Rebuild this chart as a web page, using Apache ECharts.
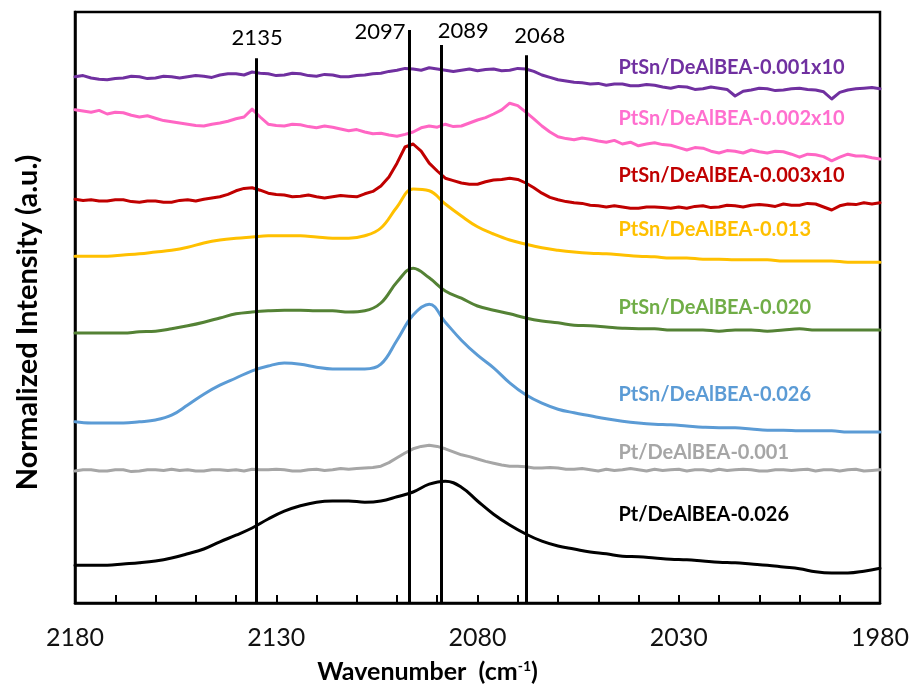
<!DOCTYPE html>
<html>
<head>
<meta charset="utf-8">
<script src="https://cdn.jsdelivr.net/npm/echarts@6/dist/echarts.min.js"></script>
<style>
  html, body { margin: 0; padding: 0; background: #ffffff; }
  #chart { width: 912px; height: 686px; }
</style>
</head>
<body>
<div id="chart"></div>
<script>
// Wavenumber grids (cm-1): 4 cm-1 step for the smooth spectra, 2 cm-1 step for the noisy ones
const wavenumbers = [2180,2176,2172,2168,2164,2160,2156,2152,2148,2144,2140,2136,2132,2128,2124,2120,2116,2112,2108,2104,2100,2096,2092,2088,2084,2080,2076,2072,2068,2064,2060,2056,2052,2048,2044,2040,2036,2032,2028,2024,2020,2016,2012,2008,2004,2000,1996,1992,1988,1984,1980];
const wavenumbersFine = [2180,2178,2176,2174,2172,2170,2168,2166,2164,2162,2160,2158,2156,2154,2152,2150,2148,2146,2144,2142,2140,2138,2136,2134,2132,2130,2128,2126,2124,2122,2120,2118,2116,2114,2112,2110,2108,2106,2104,2102,2100,2098,2096,2094,2092,2090,2088,2086,2084,2082,2080,2078,2076,2074,2072,2070,2068,2066,2064,2062,2060,2058,2056,2054,2052,2050,2048,2046,2044,2042,2040,2038,2036,2034,2032,2030,2028,2026,2024,2022,2020,2018,2016,2014,2012,2010,2008,2006,2004,2002,2000,1998,1996,1994,1992,1990,1988,1986,1984,1982,1980];

// Normalized, vertically stacked CO-IR spectra (a.u.)
const ptsn001x10 = [87.7,87.9,87.5,87.3,87.2,87.4,87.5,87.8,87.7,87.4,87.5,87.8,87.7,87.5,87.7,87.9,87.8,87.6,88.0,88.2,88.2,88.0,88.5,88.3,88.2,87.9,88.0,88.3,88.2,87.9,87.8,88.1,88.0,87.7,87.7,87.9,88.0,88.2,88.3,88.6,88.8,89.1,89.0,88.8,89.2,89.0,88.8,88.6,88.8,89.0,88.7,88.9,89.0,88.7,88.8,89.1,89.0,88.6,88.0,87.6,87.2,87.0,86.8,86.7,86.5,86.6,86.3,86.5,86.5,86.2,86.2,86.4,86.3,86.0,85.8,86.1,86.0,85.6,85.7,86.0,85.8,85.6,84.5,85.3,85.5,85.8,85.7,85.4,85.5,85.7,85.8,85.6,85.5,85.2,84.0,85.1,85.5,85.7,85.8,85.9,85.7];
const ptsn002x10 = [82.2,82.0,81.8,82.1,81.5,81.8,81.7,81.3,81.0,81.2,80.8,80.4,80.2,80.0,79.8,79.6,79.5,79.8,80.0,80.3,80.7,81.0,82.3,81.0,79.8,79.6,79.5,79.8,79.7,79.4,79.2,79.5,79.3,79.0,78.7,78.9,78.5,78.2,78.3,78.0,77.8,78.1,78.5,79.2,79.5,79.3,79.8,79.4,79.5,80.0,80.5,80.9,81.5,82.2,83.3,82.9,81.8,80.7,79.5,78.5,77.7,77.4,77.2,77.5,77.3,77.0,76.8,77.1,76.5,76.8,76.2,76.5,76.7,76.4,76.3,75.9,75.5,75.9,75.8,75.3,75.0,75.4,75.3,75.0,75.5,75.2,75.0,75.3,75.2,74.8,74.3,74.8,74.7,74.4,73.7,74.3,74.8,74.5,74.5,74.2,74.0];
const ptsn003x10 = [67.3,67.1,67.2,67.0,67.0,67.2,67.2,66.9,66.8,67.0,67.0,66.8,66.8,67.1,67.2,67.0,67.3,67.5,67.7,68.1,68.7,69.1,69.2,68.8,68.3,68.1,68.0,67.7,67.8,68.0,67.7,67.5,67.7,67.9,67.8,67.7,68.2,68.6,69.5,71.0,73.3,76.0,76.5,75.3,73.3,72.0,70.8,70.4,70.0,69.8,69.8,70.2,70.5,70.6,70.8,70.6,70.0,69.2,68.3,67.6,67.2,66.9,66.7,66.6,66.3,66.2,66.0,66.2,66.0,65.8,65.8,66.0,66.0,65.9,65.8,66.0,65.8,66.1,66.2,65.9,66.0,66.3,66.2,66.0,66.3,66.4,66.3,66.1,66.5,66.3,66.3,66.6,66.5,66.0,65.5,66.2,66.5,66.4,66.7,66.5,66.7];
const ptsn013 = [57.8,57.8,57.8,58.0,58.2,58.5,58.8,59.3,60.0,60.5,60.8,61.0,61.2,61.2,61.2,61.0,60.8,60.8,61.2,62.5,66.0,69.0,68.7,66.5,64.5,62.7,61.5,60.5,59.8,59.2,58.8,58.5,58.3,58.2,58.0,57.8,57.7,57.5,57.5,57.3,57.3,57.2,57.2,57.2,57.0,57.0,57.0,57.0,56.8,56.8,56.8];
const ptsn020 = [45.0,45.0,45.0,45.0,45.2,45.3,45.7,46.2,46.8,47.5,48.2,48.5,48.7,48.8,48.8,48.7,48.7,48.5,48.7,50.0,53.5,55.8,54.2,52.0,50.8,49.5,48.8,48.2,47.5,47.0,46.7,46.3,46.2,46.0,45.8,45.7,45.7,45.5,45.5,45.5,45.3,45.5,45.5,45.3,45.5,45.7,45.5,45.5,45.5,45.5,45.5];
const ptsn026 = [30.2,30.0,30.0,30.0,30.2,30.5,31.3,33.0,34.8,36.3,37.5,38.7,39.5,40.0,39.8,39.3,39.0,39.0,39.0,39.8,43.8,48.0,49.8,46.8,43.8,41.3,39.2,36.7,34.7,33.3,32.3,31.7,31.2,30.7,30.3,30.0,29.8,29.7,29.5,29.3,29.2,29.2,29.0,28.8,28.8,28.7,28.7,28.7,28.5,28.5,28.5];
const pt001 = [22.0,22.2,22.2,22.0,22.0,22.2,22.2,21.9,22.0,22.2,22.2,22.1,22.3,22.1,22.2,22.0,22.0,22.2,22.2,22.1,22.2,22.0,22.3,22.2,22.2,22.3,22.2,22.0,22.0,22.2,22.3,22.1,22.2,22.4,22.3,22.4,22.5,22.6,22.8,23.4,24.2,25.0,25.7,26.1,26.3,26.1,25.7,25.2,24.7,24.4,24.0,23.6,23.3,23.0,22.8,22.8,22.7,22.5,22.5,22.6,22.5,22.3,22.3,22.4,22.2,22.0,22.3,22.1,22.2,22.4,22.2,22.0,22.3,22.1,22.2,22.3,22.0,22.2,22.2,22.0,22.3,22.1,22.2,22.3,22.2,22.0,22.0,22.2,22.2,22.1,22.2,22.3,22.0,22.2,22.2,22.0,22.2,22.3,22.0,22.1,22.2];
const pt026 = [6.3,6.3,6.3,6.5,6.7,7.0,7.5,8.2,9.0,10.2,11.3,12.5,14.0,15.3,16.2,16.8,17.0,17.0,16.8,17.0,17.7,18.5,19.8,20.3,19.3,17.0,14.8,13.0,11.5,10.3,9.5,9.0,8.5,8.2,7.8,7.7,7.5,7.3,7.2,7.0,6.8,6.7,6.5,6.3,6.0,5.7,5.2,5.0,5.0,5.3,5.8];

const sampleNames = ['PtSn/DeAlBEA-0.001x10','PtSn/DeAlBEA-0.002x10','PtSn/DeAlBEA-0.003x10','PtSn/DeAlBEA-0.013','PtSn/DeAlBEA-0.020','PtSn/DeAlBEA-0.026','Pt/DeAlBEA-0.001','Pt/DeAlBEA-0.026'];
const spectra = [ptsn001x10, ptsn002x10, ptsn003x10, ptsn013, ptsn020, ptsn026, pt001, pt026];
const noisy = [true, true, true, false, false, false, true, false];
// vertical level of each trace label (a.u.)
const labelLevels = [89.3, 80.8, 71.3, 62.3, 49.3, 34.7, 25.0, 14.7];
const labelWavenumber = 2045;

// Band positions marked with vertical lines
const bandPositions = [2135, 2097, 2089, 2068];

const lineColors  = ['#7030A0','#FF66C4','#C00000','#FFC000','#548235','#5B9BD5','#A6A6A6','#000000'];
const labelColors = ['#7030A0','#FF6FCF','#C00000','#FFC000','#70AD47','#5B9BD5','#A6A6A6','#000000'];

const FONT = 'Lato, "Open Sans", sans-serif';

// line tops and label placement for the band markers
const bandLineTop  = [90.8, 95.5, 93.0, 91.3];
const bandLabelY   = [94.2, 95.2, 95.3, 94.5];
const bandLabelDx  = [1, -29, 22, 14];

const series = spectra.map((vals, i) => {
  const xs = noisy[i] ? wavenumbersFine : wavenumbers;
  return {
    name: sampleNames[i],
    type: 'line',
    data: xs.map((w, j) => [w, vals[j]]),
    showSymbol: false,
    smooth: noisy[i] ? false : 0.4,
    lineStyle: { color: lineColors[i], width: 3, join: 'round', cap: 'round' },
    itemStyle: { color: lineColors[i] },
    z: 2,
    silent: true,
    markPoint: {
      symbol: 'circle',
      symbolSize: 0,
      silent: true,
      data: [{ coord: [labelWavenumber, labelLevels[i]] }],
      label: {
        show: true,
        position: 'right',
        distance: 0,
        formatter: sampleNames[i],
        color: labelColors[i],
        fontFamily: FONT,
        fontWeight: 'bold',
        fontSize: 20
      }
    }
  };
});

// band marker lines drawn on top of the spectra
series.push({
  name: 'bands',
  type: 'line',
  data: [],
  z: 5,
  markLine: {
    silent: true,
    symbol: ['none', 'none'],
    label: { show: false },
    lineStyle: { color: '#000000', width: 3, type: 'solid' },
    data: bandPositions.map((b, i) => [
      { coord: [b, bandLineTop[i]] },
      { coord: [b, 0] }
    ])
  },
  markPoint: {
    symbol: 'circle',
    symbolSize: 0,
    silent: true,
    label: {
      show: true,
      position: 'inside',
      formatter: p => String(p.value),
      color: '#000000',
      fontFamily: FONT,
      fontSize: 22
    },
    data: bandPositions.map((b, i) => ({
      coord: [b, bandLabelY[i]],
      value: b,
      label: { offset: [bandLabelDx[i], 0] }
    }))
  }
});

const chart = echarts.init(document.getElementById('chart'), null, { renderer: 'canvas' });
chart.setOption({
  animation: false,
  backgroundColor: '#ffffff',
  grid: {
    left: 75, right: 32, top: 12, bottom: 83,
    outerBoundsMode: 'none',
    containLabel: false,
    show: true, borderColor: '#000000', borderWidth: 2.5, backgroundColor: 'transparent'
  },
  xAxis: {
    type: 'value',
    min: 1980, max: 2180, interval: 10,
    inverse: true,
    name: 'Wavenumber  (cm{sup|-1})',
    nameLocation: 'middle',
    nameGap: 56,
    nameTextStyle: {
      fontFamily: FONT, fontWeight: 'bold', fontSize: 25, color: '#000000',
      padding: [0, 100, 0, 0],
      rich: {
        sup: { fontFamily: FONT, fontWeight: 'bold', fontSize: 14, color: '#000000', verticalAlign: 'top', padding: [0, 0, 10, 0] }
      }
    },
    axisLine: { show: true, onZero: false, lineStyle: { color: '#000000', width: 2.5 } },
    axisTick: { show: true, inside: true, length: 8, lineStyle: { color: '#000000', width: 2 } },
    axisLabel: {
      margin: 22,
      fontFamily: FONT, fontSize: 25, color: '#111111',
      formatter: v => ((v - 1980) % 50 === 0 ? String(v) : '')
    },
    splitLine: { show: false }
  },
  yAxis: {
    type: 'value',
    min: 0, max: 98.5,
    name: 'Normalized Intensity (a.u.)',
    nameLocation: 'middle',
    nameGap: 33,
    nameTextStyle: {
      fontFamily: FONT, fontWeight: 'bold', fontSize: 29, color: '#000000',
      padding: [0, 30, 0, 0]
    },
    axisLine: { show: true, lineStyle: { color: '#000000', width: 2.5 } },
    axisTick: { show: false },
    axisLabel: { show: false },
    splitLine: { show: false }
  },
  series: series
});
</script>
</body>
</html>
